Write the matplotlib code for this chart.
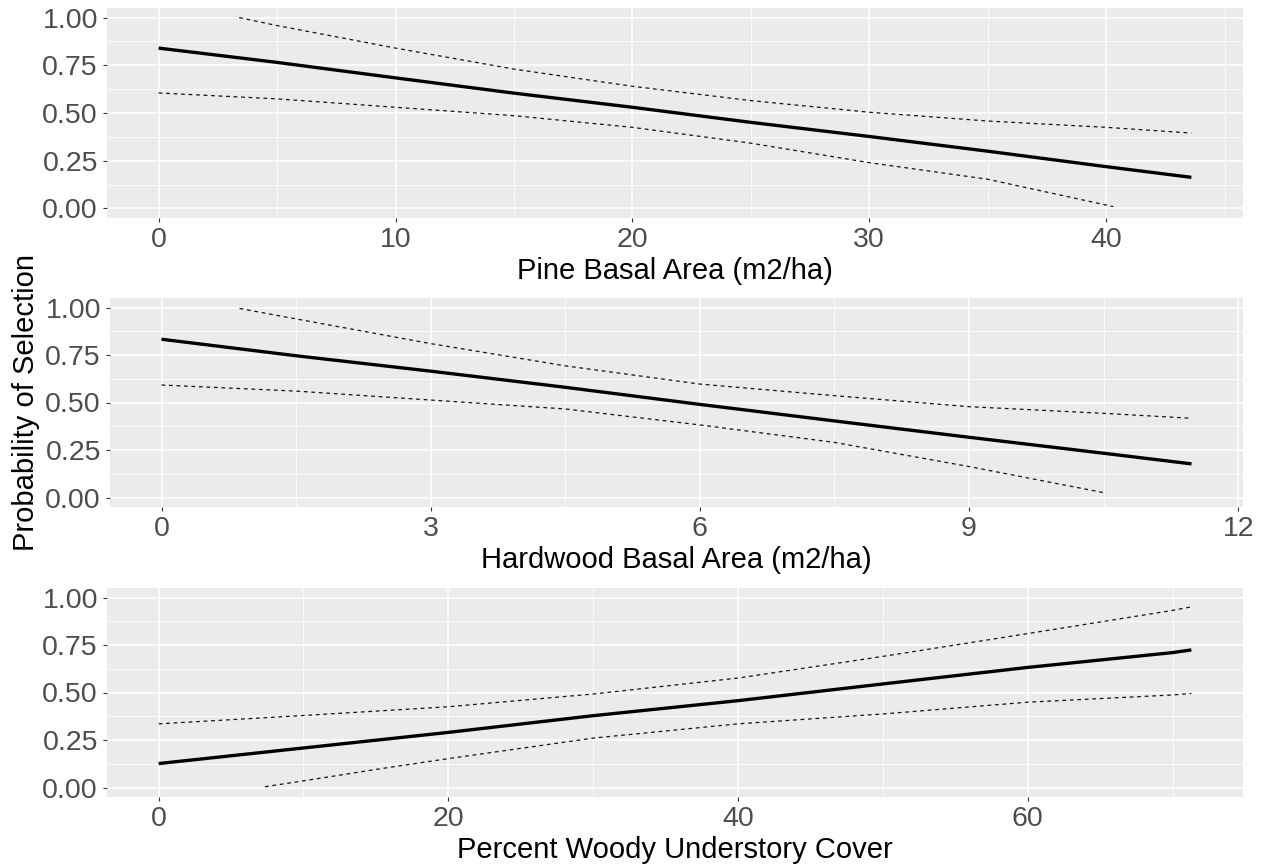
import matplotlib
matplotlib.use("Agg")
import matplotlib.pyplot as plt
import numpy as np

plt.rcParams["font.family"] = ["Liberation Sans", "DejaVu Sans"]

# Panel 1: pine basal area
pine_x = [0, 5, 10, 15, 20, 25, 30, 35, 40, 43.6]
pine_fit = [0.84, 0.765, 0.684, 0.604, 0.530, 0.451, 0.377, 0.30, 0.219, 0.163]
pine_up_x = [3.4, 5, 10, 15, 20, 25, 30, 35, 40, 43.6]
pine_up = [1.0, 0.958, 0.84, 0.73, 0.64, 0.565, 0.504, 0.458, 0.425, 0.395]
pine_lo_x = [0, 5, 10, 15, 20, 25, 30, 35, 40.3]
pine_lo = [0.605, 0.574, 0.53, 0.486, 0.425, 0.342, 0.24, 0.153, 0.01]

# Panel 2: hardwood basal area
hard_x = [0, 1.5, 3, 4.5, 6, 7.5, 9, 10.5, 11.48]
hard_fit = [0.833, 0.746, 0.665, 0.58, 0.49, 0.403, 0.317, 0.233, 0.177]
hard_up_x = [0.87, 1.5, 3, 4.5, 6, 7.5, 9, 10.5, 11.48]
hard_up = [0.995, 0.94, 0.81, 0.693, 0.597, 0.536, 0.478, 0.443, 0.417]
hard_lo_x = [0, 1.5, 3, 4.5, 6, 7.5, 9, 10.53]
hard_lo = [0.592, 0.56, 0.513, 0.466, 0.382, 0.29, 0.163, 0.023]

# Panel 3: woody understory cover
wood_x = [0, 10, 20, 30, 40, 50, 60, 70, 71.3]
wood_fit = [0.126, 0.208, 0.29, 0.378, 0.457, 0.545, 0.632, 0.71, 0.724]
wood_up_x = [0, 10, 20, 30, 40, 50, 60, 70, 71.3]
wood_up = [0.335, 0.379, 0.425, 0.492, 0.576, 0.69, 0.81, 0.932, 0.951]
wood_lo_x = [7.34, 10, 15.33, 20, 30, 40, 50, 60, 70, 71.3]
wood_lo = [0.004, 0.035, 0.099, 0.152, 0.26, 0.335, 0.387, 0.449, 0.487, 0.495]

y_ticks = [0, 0.25, 0.5, 0.75, 1.0]
y_ticklabels = ["0.00", "0.25", "0.50", "0.75", "1.00"]

panels = [
    dict(x=pine_x, fit=pine_fit, ux=pine_up_x, up=pine_up, lx=pine_lo_x, lo=pine_lo,
         xmax=43.6, ticks=[0, 10, 20, 30, 40], minor=[5, 15, 25, 35, 45],
         label="Pine Basal Area (m2/ha)", rect=(107, 8, 1243, 218)),
    dict(x=hard_x, fit=hard_fit, ux=hard_up_x, up=hard_up, lx=hard_lo_x, lo=hard_lo,
         xmax=11.48, ticks=[0, 3, 6, 9, 12], minor=[1.5, 4.5, 7.5, 10.5],
         label="Hardwood Basal Area (m2/ha)", rect=(110, 298, 1243, 507)),
    dict(x=wood_x, fit=wood_fit, ux=wood_up_x, up=wood_up, lx=wood_lo_x, lo=wood_lo,
         xmax=71.3, ticks=[0, 20, 40, 60], minor=[10, 30, 50, 70],
         label="Percent Woody Understory Cover", rect=(107, 588, 1243, 797)),
]

W, H = 1266, 866
fig = plt.figure(figsize=(W / 100, H / 100), dpi=100)

for i, p in enumerate(panels):
    l, t, r, b = p["rect"]
    ax = fig.add_axes([l / W, 1 - b / H, (r - l) / W, (b - t) / H])
    ax.set_facecolor("#EBEBEB")
    for s in ax.spines.values():
        s.set_visible(False)

    ax.plot(p["x"], p["fit"], color="black", lw=2.4, solid_capstyle="butt", zorder=3)
    ax.plot(p["ux"], p["up"], color="#111111", lw=0.9, ls=(0, (3, 3)), zorder=3)
    ax.plot(p["lx"], p["lo"], color="#111111", lw=0.9, ls=(0, (3, 3)), zorder=3)

    pad = 0.05 * p["xmax"]
    ax.set_xlim(-pad, p["xmax"] + pad)
    ax.set_ylim(-0.05, 1.05)

    ax.set_xticks(p["ticks"])
    ax.set_xticks(p["minor"], minor=True)
    ax.set_yticks(y_ticks)
    ax.set_yticklabels(y_ticklabels)
    ax.set_yticks([0.125, 0.375, 0.625, 0.875], minor=True)

    ax.grid(which="major", color="white", lw=1.1)
    ax.grid(which="minor", color="white", lw=0.55)
    ax.set_axisbelow(True)

    ax.tick_params(which="major", length=3, width=0.8, color="#333333",
                   labelsize=20.5, labelcolor="#4D4D4D", pad=3.5)
    ax.tick_params(which="minor", length=0)

    ax.set_xlabel(p["label"], fontsize=21, color="black", labelpad=3)
    if i == 1:
        ax.set_ylabel("Probability of Selection", fontsize=21, color="black", labelpad=4)

fig.savefig("out.png", dpi=100, facecolor="white")
